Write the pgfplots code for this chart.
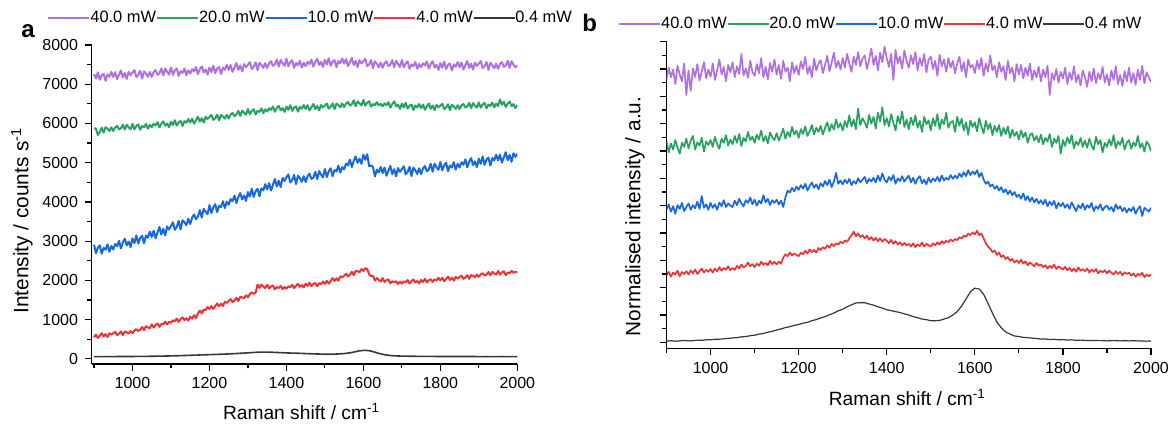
\documentclass[border=0pt]{standalone}
\usepackage{pgfplots}
\pgfplotsset{compat=1.18}
\usepackage{pgfplotstable}
\usepackage{fontspec}
\setmainfont{Liberation Sans}
\definecolor{cpurple}{RGB}{176,112,224}
\definecolor{cgreen}{RGB}{40,162,96}
\definecolor{cblue}{RGB}{24,104,224}
\definecolor{cred}{RGB}{234,52,56}
\definecolor{cblack}{RGB}{55,55,55}

\pgfplotstableread{
x a40 a20 a10 a4
900 7262 5876 2910 552
905 7145 5871 2695 618
910 7304 5706 2830 534
915 7115 5782 2895 594
920 7226 5893 2680 654
925 7265 5765 2829 570
930 7088 5905 2782 630
935 7247 5865 2917 558
940 7190 5807 2730 654
945 7313 5902 2879 618
950 7184 5808 2790 654
955 7307 5900 2929 691
960 7130 5938 2872 608
965 7241 5850 3011 639
970 7352 5879 2814 700
975 7175 5971 2967 605
980 7286 5846 3064 702
985 7133 5966 2895 679
990 7316 5905 2992 644
995 7235 5853 2851 711
1000 7298 5990 3074 652
1005 7361 5851 2950 724
1010 7184 5937 3148 760
1015 7235 5978 2940 712
1020 7346 5839 3082 742
1025 7145 5934 3140 814
1030 7328 5903 2946 736
1035 7271 5989 3144 832
1040 7190 5868 3090 802
1045 7313 5963 3246 778
1050 7184 5905 3108 880
1055 7307 5990 3266 797
1060 7358 5949 3074 864
1065 7241 6034 3218 901
1070 7280 5903 3362 818
1075 7403 5997 3170 891
1080 7226 6055 3314 880
1085 7397 5942 3150 947
1090 7316 6000 3378 876
1095 7247 5905 3298 949
1100 7430 6044 3386 920
1105 7240 5960 3478 983
1110 7351 6083 3290 962
1115 7401 5945 3368 1025
1120 7212 6032 3516 944
1125 7334 6065 3300 1013
1130 7289 5936 3532 1058
1135 7399 6059 3484 989
1140 7234 6020 3408 1034
1145 7356 6116 3570 977
1150 7275 6023 3438 1076
1155 7385 6121 3601 1026
1160 7327 5994 3680 1114
1165 7437 6083 3563 1038
1170 7259 6172 3628 1162
1175 7381 6045 3791 1230
1180 7455 6134 3604 1160
1185 7301 6025 3823 1258
1190 7375 6168 3748 1243
1195 7245 6113 3687 1323
1200 7427 6166 3920 1272
1205 7312 6218 3718 1348
1210 7472 6090 3866 1274
1215 7285 6133 3944 1344
1220 7397 6221 3742 1414
1225 7438 6075 3904 1340
1230 7262 6217 3870 1410
1235 7423 6179 4018 1348
1240 7367 6123 3844 1454
1245 7492 6220 4006 1428
1250 7364 6128 3930 1474
1255 7489 6226 4073 1521
1260 7314 6270 4020 1448
1265 7427 6188 4163 1489
1270 7540 6223 3970 1560
1275 7365 6321 4127 1475
1280 7478 6194 4228 1582
1285 7327 6328 4063 1569
1290 7512 6273 4164 1544
1295 7433 6227 4027 1621
1300 7498 6370 4254 1572
1305 7564 6233 4133 1652
1310 7390 6321 4334 1696
1315 7444 6364 4129 1656
1320 7558 6227 4274 1694
1325 7360 6324 4335 1894
1330 7546 6295 4144 1809
1335 7492 6383 4345 1893
1340 7414 6264 4294 1846
1345 7540 6361 4453 1805
1350 7414 6305 4318 1890
1355 7536 6389 4479 1793
1360 7586 6347 4290 1846
1365 7468 6431 4437 1869
1370 7506 6299 4584 1774
1375 7628 6392 4395 1831
1380 7450 6449 4542 1806
1385 7620 6335 4381 1859
1390 7538 6392 4612 1774
1395 7468 6296 4535 1833
1400 7650 6434 4626 1790
1405 7457 6346 4701 1850
1410 7564 6465 4496 1826
1415 7611 6323 4557 1886
1420 7418 6406 4688 1802
1425 7537 6435 4455 1868
1430 7488 6302 4670 1910
1435 7595 6421 4605 1838
1440 7426 6378 4512 1880
1445 7545 6470 4657 1820
1450 7460 6373 4508 1916
1455 7571 6465 4656 1861
1460 7514 6332 4720 1944
1465 7625 6415 4588 1853
1470 7448 6498 4618 1912
1475 7571 6365 4766 1935
1480 7646 6448 4584 1850
1485 7493 6333 4788 1933
1490 7568 6470 4698 1908
1495 7439 6409 4622 1973
1500 7622 6456 4840 1912
1505 7503 6508 4636 1989
1510 7660 6380 4782 1916
1515 7469 6423 4858 1987
1520 7578 6511 4654 2058
1525 7615 6365 4814 1985
1530 7436 6507 4778 2056
1535 7593 6469 4924 1995
1540 7534 6413 4748 2102
1545 7655 6510 4888 2077
1550 7524 6418 4830 2124
1555 7642 6510 4978 2173
1560 7460 6548 4930 2102
1565 7566 6460 5078 2145
1570 7672 6489 4890 2218
1575 7490 6591 5052 2135
1580 7596 6438 5158 2244
1585 7438 6562 4998 2233
1590 7616 6515 5104 2210
1595 7530 6463 4972 2289
1600 7588 6600 5204 2242
1605 7645 6453 5074 2312
1610 7463 6531 5216 2286
1615 7508 6564 4912 2156
1620 7614 6429 4928 2104
1625 7407 6495 4890 2114
1630 7585 6465 4650 1994
1635 7522 6543 4822 2058
1640 7436 6462 4752 2011
1645 7553 6501 4892 1970
1650 7419 6435 4738 2060
1655 7537 6513 4878 1959
1660 7584 6465 4668 2008
1665 7462 6543 4794 2027
1670 7497 6405 4920 1926
1675 7615 6492 4710 1981
1680 7434 6563 4836 1952
1685 7600 6443 4654 1981
1690 7515 6474 4864 1912
1695 7441 6372 4766 1967
1700 7620 6504 4836 1920
1705 7427 6411 4910 1977
1710 7534 6525 4704 1950
1715 7581 6378 4764 2007
1720 7392 6456 4894 1920
1725 7507 6480 4660 1983
1730 7458 6342 4874 2022
1735 7565 6456 4808 1947
1740 7396 6408 4714 1986
1745 7515 6495 4858 1923
1750 7430 6393 4708 2016
1755 7536 6483 4854 1960
1760 7474 6348 4916 2042
1765 7580 6429 4782 1950
1770 7398 6510 4830 2008
1775 7516 6375 4976 2030
1780 7586 6456 4772 1964
1785 7428 6339 4974 2026
1790 7498 6474 4882 2000
1795 7364 6411 4820 2064
1800 7542 6456 5020 2002
1805 7422 6503 4803 2066
1810 7578 6370 4936 1980
1815 7386 6408 4999 2038
1820 7494 6491 4782 2096
1825 7530 6340 4929 2010
1830 7350 6477 4880 2068
1835 7506 6434 5013 1994
1840 7446 6373 4824 2088
1845 7566 6465 4971 2050
1850 7434 6368 4880 2084
1855 7555 6459 5013 2122
1860 7376 6496 4950 2040
1865 7485 6407 5083 2072
1870 7594 6435 4880 2134
1875 7415 6526 5027 2040
1880 7524 6392 5118 2138
1885 7369 6519 4943 2116
1890 7550 6457 5034 2082
1895 7467 6404 4887 2150
1900 7528 6540 5104 2092
1905 7589 6400 4972 2156
1910 7410 6485 5162 2184
1915 7459 6525 4946 2128
1920 7568 6385 5080 2150
1925 7365 6479 5130 2214
1930 7546 6447 4928 2128
1935 7487 6532 5118 2216
1940 7404 6410 5056 2178
1945 7525 6504 5204 2146
1950 7394 6445 5058 2240
1955 7514 6610 5205 2147
1960 7562 6477 5002 2204
1965 7442 6556 5135 2231
1970 7478 6419 5268 2132
1975 7598 6507 5065 2201
1980 7418 6559 5198 2186
1985 7586 6440 5023 2243
1990 7502 6492 5240 2198
1995 7430 6391 5149 2219
2000 7480 6470 5230 2210
}\tA

\pgfplotstableread{
x b40 b20 b10 b4
900 9.62 7.35 4.85 2.45
905 10.05 6.95 5.05 2.58
910 9.70 7.28 4.78 2.40
915 9.98 7.05 4.98 2.55
920 9.45 7.40 4.70 2.48
925 10.12 7.12 5.02 2.62
930 9.80 6.90 4.88 2.42
935 9.55 7.30 5.10 2.57
940 10.20 7.15 4.80 2.50
945 9.05 7.45 4.95 2.60
950 9.95 7.10 5.08 2.48
955 9.20 7.38 4.85 2.63
960 10.02 7.55 5.02 2.52
965 9.71 7.05 4.90 2.66
970 10.18 7.32 5.15 2.50
975 9.58 7.20 4.88 2.60
980 9.90 7.48 5.35 2.70
985 10.25 6.98 4.92 2.55
990 9.66 7.35 5.05 2.65
995 9.98 7.22 4.85 2.58
1000 9.72 7.40 5.10 2.68
1005 10.20 7.15 4.92 2.55
1010 9.60 7.52 5.05 2.70
1015 9.95 7.25 4.85 2.60
1020 10.35 7.08 5.12 2.75
1025 9.80 7.45 4.98 2.62
1030 10.08 7.30 5.20 2.72
1035 9.55 7.58 4.95 2.66
1040 10.15 7.20 5.08 2.78
1045 9.88 7.42 5.00 2.64
1050 10.25 7.25 4.95 2.72
1055 9.70 7.55 5.18 2.65
1060 10.10 7.30 5.02 2.80
1065 9.82 7.62 5.25 2.70
1070 10.55 7.18 5.08 2.85
1075 9.76 7.48 4.98 2.74
1080 10.02 7.35 5.20 2.80
1085 9.68 7.70 5.10 2.92
1090 10.30 7.40 5.30 2.78
1095 9.90 7.52 5.05 2.86
1100 9.75 7.30 5.22 2.75
1105 10.18 7.60 5.00 2.88
1110 9.85 7.42 5.18 2.80
1115 10.40 7.75 5.08 2.95
1120 9.70 7.35 5.38 2.84
1125 10.08 7.55 5.12 2.90
1130 9.62 7.28 5.25 2.82
1135 10.22 7.68 5.02 2.98
1140 9.90 7.50 5.20 2.86
1145 10.35 7.40 5.10 2.94
1150 9.80 7.65 5.22 2.85
1155 10.15 7.38 5.05 2.95
1160 9.65 7.58 5.18 2.88
1165 10.30 7.82 4.95 3.10
1170 9.90 7.45 5.30 3.22
1175 10.05 7.70 5.55 3.15
1180 9.55 7.52 5.48 3.28
1185 10.25 7.88 5.65 3.18
1190 9.85 7.60 5.52 3.25
1195 10.12 7.75 5.70 3.20
1200 9.78 7.48 5.58 3.15
1205 10.28 7.80 5.75 3.28
1210 10.00 7.62 5.62 3.22
1215 10.45 7.90 5.80 3.35
1220 9.82 7.55 5.55 3.25
1225 10.10 7.72 5.72 3.40
1230 9.70 7.95 5.85 3.30
1235 10.38 7.60 5.65 3.38
1240 9.95 7.85 5.78 3.28
1245 10.20 7.70 5.60 3.45
1250 10.32 7.92 5.82 3.38
1255 9.85 7.60 5.70 3.48
1260 10.15 7.85 5.90 3.42
1265 10.48 8.05 5.75 3.55
1270 9.92 7.72 5.95 3.46
1275 10.25 7.98 5.68 3.60
1280 10.60 7.78 5.88 3.52
1285 10.05 8.15 6.20 3.62
1290 10.30 7.85 5.80 3.58
1295 9.98 8.02 5.92 3.68
1300 10.40 7.75 5.78 3.62
1305 10.05 8.10 5.95 3.72
1310 10.55 7.88 5.82 3.68
1315 10.20 8.30 5.98 3.80
1320 9.90 7.90 5.75 3.92
1325 10.45 8.15 5.90 4.05
1330 10.15 7.80 5.80 3.88
1335 10.62 8.55 6.00 3.98
1340 10.10 7.95 5.85 3.85
1345 10.38 8.20 5.95 3.92
1350 10.50 8.05 6.05 3.80
1355 10.00 7.85 5.82 3.90
1360 10.35 8.32 5.98 3.75
1365 10.75 8.00 5.88 3.85
1370 10.15 8.25 6.02 3.72
1375 10.48 7.82 5.85 3.82
1380 9.95 8.40 6.10 3.70
1385 10.60 8.08 5.90 3.80
1390 10.25 8.60 6.18 3.68
1395 10.82 7.95 5.95 3.78
1400 10.40 8.20 5.85 3.72
1405 10.08 7.90 6.05 3.62
1410 10.55 8.35 5.92 3.75
1415 9.60 8.05 6.12 3.60
1420 10.70 7.75 5.80 3.70
1425 10.20 8.28 6.00 3.58
1430 10.45 8.00 5.90 3.66
1435 10.02 8.45 6.08 3.54
1440 10.68 7.88 5.88 3.64
1445 10.30 8.15 6.00 3.55
1450 10.05 7.80 6.10 3.60
1455 10.50 8.22 5.85 3.50
1460 10.18 7.95 6.02 3.62
1465 10.62 8.30 5.80 3.48
1470 9.95 7.85 5.98 3.58
1475 10.40 8.10 6.08 3.52
1480 10.12 7.70 5.82 3.65
1485 10.55 8.25 5.95 3.50
1490 9.88 7.98 5.78 3.60
1495 10.35 8.12 6.02 3.55
1500 10.45 7.75 5.85 3.50
1505 10.00 8.20 6.00 3.62
1510 10.30 7.92 5.90 3.55
1515 9.75 8.35 6.05 3.66
1520 10.52 7.80 5.88 3.58
1525 10.10 8.15 6.10 3.70
1530 10.35 7.98 5.92 3.62
1535 9.90 8.40 6.02 3.72
1540 10.40 7.85 5.95 3.66
1545 10.05 8.05 6.12 3.76
1550 10.30 8.10 5.98 3.70
1555 9.85 7.70 6.10 3.78
1560 10.20 8.25 6.00 3.74
1565 10.45 7.92 6.18 3.84
1570 9.92 8.18 6.05 3.80
1575 10.25 7.75 6.22 3.90
1580 9.70 8.05 6.08 3.86
1585 10.35 7.60 6.30 3.98
1590 10.05 8.12 6.12 3.92
1595 10.15 7.88 6.25 4.02
1600 9.85 8.05 6.15 3.95
1605 10.30 7.72 6.30 4.08
1610 10.00 8.20 6.05 3.92
1615 10.40 7.90 6.20 3.98
1620 9.75 7.65 5.95 3.80
1625 10.20 8.10 5.80 3.62
1630 9.90 7.80 5.88 3.50
1635 10.50 8.00 5.70 3.42
1640 9.95 7.58 5.78 3.30
1645 10.12 7.92 5.62 3.36
1650 9.70 7.70 5.72 3.20
1655 10.25 7.95 5.55 3.28
1660 9.90 7.55 5.68 3.12
1665 10.10 7.85 5.48 3.18
1670 9.60 7.62 5.60 3.05
1675 10.30 7.90 5.42 3.12
1680 9.85 7.48 5.55 2.98
1685 10.05 7.78 5.38 3.05
1690 9.55 7.55 5.50 2.92
1695 10.18 7.70 5.32 3.00
1700 9.80 7.42 5.40 2.90
1705 10.15 7.75 5.25 3.02
1710 9.65 7.50 5.45 2.88
1715 10.05 7.68 5.20 2.96
1720 9.75 7.30 5.35 2.82
1725 10.20 7.58 5.15 2.92
1730 9.60 7.65 5.30 2.85
1735 9.95 7.38 5.12 2.78
1740 9.70 7.55 5.25 2.90
1745 10.08 7.32 5.08 2.80
1750 9.55 7.60 5.20 2.85
1755 9.98 7.25 5.05 2.75
1760 9.70 7.48 5.22 2.82
1765 10.12 7.35 4.98 2.70
1770 9.05 7.62 5.15 2.80
1775 9.85 7.15 5.02 2.72
1780 9.60 7.45 5.18 2.85
1785 10.00 7.30 4.90 2.68
1790 9.50 7.55 5.10 2.78
1795 9.90 6.90 4.98 2.72
1800 9.65 7.40 5.10 2.66
1805 10.05 7.18 4.92 2.76
1810 9.45 7.50 5.05 2.64
1815 9.88 7.28 4.88 2.72
1820 9.60 7.58 5.12 2.60
1825 10.10 7.10 4.95 2.70
1830 9.52 7.35 4.80 2.58
1835 9.80 7.22 5.02 2.74
1840 9.40 7.48 4.90 2.62
1845 9.95 7.15 5.08 2.68
1850 9.70 7.38 4.85 2.60
1855 9.35 7.12 5.02 2.70
1860 9.90 7.45 4.92 2.55
1865 9.55 7.20 5.10 2.66
1870 10.02 7.05 4.80 2.58
1875 9.48 7.52 4.98 2.68
1880 9.85 7.25 4.88 2.52
1885 9.62 7.40 5.05 2.62
1890 10.08 6.95 4.82 2.56
1895 9.50 7.30 4.95 2.64
1900 9.80 7.15 5.00 2.52
1905 9.40 7.42 4.85 2.62
1910 9.95 7.20 4.95 2.55
1915 9.60 7.58 4.78 2.48
1920 10.10 7.10 5.05 2.60
1925 9.45 7.35 4.88 2.50
1930 9.78 7.22 4.98 2.58
1935 9.38 7.48 4.80 2.45
1940 9.92 7.05 4.92 2.56
1945 9.55 7.30 4.75 2.50
1950 10.05 7.40 4.90 2.55
1955 9.50 7.08 4.80 2.44
1960 9.85 7.32 4.95 2.52
1965 9.42 7.18 4.70 2.40
1970 9.98 7.55 4.88 2.50
1975 9.60 7.12 4.98 2.46
1980 10.12 7.28 4.62 2.54
1985 9.48 6.98 4.92 2.38
1990 9.88 7.35 4.85 2.48
1995 9.70 7.22 4.78 2.42
2000 9.52 7.00 4.92 2.48
}\tB

\pgfplotstableread{
x a04 b04
900 58 0.04
910 59 0.06
920 58 0.04
930 59 0.05
940 60 0.07
950 59 0.05
960 60 0.06
970 61 0.08
980 61 0.07
990 62 0.09
1000 62 0.09
1010 63 0.11
1020 64 0.11
1030 65 0.13
1040 66 0.14
1050 67 0.16
1060 69 0.17
1070 71 0.20
1080 72 0.21
1090 74 0.24
1100 76 0.26
1110 79 0.30
1120 81 0.32
1130 85 0.37
1140 88 0.40
1150 91 0.45
1160 95 0.49
1170 98 0.54
1180 102 0.57
1190 105 0.62
1200 108 0.65
1210 112 0.70
1220 115 0.73
1230 119 0.79
1240 123 0.83
1250 127 0.89
1260 132 0.94
1270 137 1.01
1280 143 1.07
1290 148 1.15
1300 154 1.21
1310 161 1.30
1320 167 1.37
1330 172 1.44
1340 174 1.45
1350 173 1.45
1360 170 1.40
1370 166 1.36
1380 162 1.30
1390 157 1.25
1400 153 1.19
1410 149 1.16
1420 147 1.12
1430 144 1.09
1440 140 1.04
1450 136 1.00
1460 132 0.94
1470 128 0.90
1480 125 0.85
1490 122 0.83
1500 120 0.79
1510 119 0.79
1520 121 0.80
1530 124 0.85
1540 129 0.90
1550 136 1.00
1560 147 1.12
1570 163 1.33
1580 185 1.58
1590 206 1.85
1600 217 1.98
1610 215 1.95
1620 199 1.76
1630 171 1.42
1640 142 1.07
1650 116 0.74
1660 98 0.53
1670 86 0.38
1680 79 0.30
1690 74 0.23
1700 71 0.21
1710 70 0.18
1720 68 0.17
1730 67 0.15
1740 66 0.14
1750 65 0.12
1760 64 0.12
1770 63 0.10
1780 63 0.11
1790 62 0.09
1800 62 0.10
1810 62 0.08
1820 61 0.09
1830 61 0.07
1840 61 0.08
1850 61 0.07
1860 60 0.06
1870 60 0.07
1880 60 0.06
1890 60 0.06
1900 59 0.05
1910 59 0.06
1920 60 0.06
1930 59 0.05
1940 59 0.06
1950 59 0.05
1960 60 0.06
1970 59 0.05
1980 59 0.05
1990 58 0.04
2000 59 0.05
}\tS

\pgfplotsset{
  common/.style={
    scale only axis,
    axis x line*=bottom, axis y line*=left,
    tick align=outside,
    xmax=2000,
    xtick={1000,1200,...,2000},
    minor xtick={900,1100,...,1900},
    major tick length=3.3pt, minor tick length=2.2pt,
    every tick/.style={black, line width=0.6pt},
    axis line style={black, line width=0.6pt},
    ticklabel style={font=\fontsize{8}{9.6}\selectfont},
    /pgf/number format/assume math mode=true,
    /pgf/number format/set thousands separator={},
    label style={font=\fontsize{9.6}{11.5}\selectfont},
    every axis plot/.append style={line join=round},
    legend columns=-1,
    legend style={draw=none, fill=none, inner sep=0pt,
      font=\fontsize{8.2}{9.8}\selectfont,
      nodes={inner xsep=0pt, inner ysep=1pt},
      /tikz/every even column/.append style={column sep=0pt}},
    legend image code/.code={\draw[#1, line width=0.8pt] (0pt,0pt) -- (18pt,0pt);
      \path (0pt,0pt) -- (20.5pt,0pt);},
  }
}

\begin{document}
\begin{tikzpicture}
\begin{axis}[common,
  at={(45.85pt,29.5pt)}, anchor=south west,
  width=212.8pt, height=159.5pt,
  xmin=894, ymin=-130, ymax=8000,
  ytick={0,1000,...,8000}, minor ytick={500,1500,...,7500},
  xlabel={Raman shift / cm\textsuperscript{-1}},
  ylabel={Intensity / counts s\textsuperscript{-1}},
  xlabel style={at={(axis description cs:0.493,-0.1755)}, anchor=base},
  ylabel style={at={(axis description cs:-0.164,0.45)}, anchor=center,
    font=\fontsize{10.4}{12.5}\selectfont},
  legend style={at={(axis description cs:-0.105,1.085)}, anchor=west},
]
\addplot[cpurple, line width=1pt] table[x=x, y=a40] {\tA};
\addlegendentry{40.0 mW}
\addplot[cgreen, line width=1pt] table[x=x, y=a20] {\tA};
\addlegendentry{20.0 mW}
\addplot[cblue, line width=1pt] table[x=x, y=a10] {\tA};
\addlegendentry{10.0 mW}
\addplot[cred, line width=1pt] table[x=x, y=a4] {\tA};
\addlegendentry{4.0 mW}
\addplot[cblack, line width=0.8pt] table[x=x, y=a04] {\tS};
\addlegendentry{0.4 mW}
\end{axis}

\begin{axis}[common,
  at={(333.25pt,37.35pt)}, anchor=south west,
  width=242.25pt, height=153.3pt,
  xmin=900, ymin=-0.22, ymax=11,
  ytick={0,1,...,11}, minor ytick={0.5,1.5,...,10.5},
  yticklabels={},
  xlabel={Raman shift / cm\textsuperscript{-1}},
  ylabel={Normalised intensity / a.u.},
  xlabel style={at={(axis description cs:0.497,-0.188)}, anchor=base},
  ylabel style={at={(axis description cs:-0.065,0.43)}, anchor=center,
    font=\fontsize{10.4}{12.5}\selectfont},
  legend style={at={(axis description cs:-0.100,1.058)}, anchor=west},
]
\addplot[cpurple, line width=0.85pt] table[x=x, y=b40] {\tB};
\addlegendentry{40.0 mW}
\addplot[cgreen, line width=0.85pt] table[x=x, y=b20] {\tB};
\addlegendentry{20.0 mW}
\addplot[cblue, line width=0.85pt] table[x=x, y=b10] {\tB};
\addlegendentry{10.0 mW}
\addplot[cred, line width=0.85pt] table[x=x, y=b4] {\tB};
\addlegendentry{4.0 mW}
\addplot[cblack, line width=0.6pt] table[x=x, y=b04] {\tS};
\addlegendentry{0.4 mW}
\end{axis}

\node[anchor=base west, inner sep=0pt, font=\bfseries\fontsize{12}{14}\selectfont] at (10.5pt,192.7pt) {a};
\node[anchor=base west, inner sep=0pt, font=\bfseries\fontsize{12}{14}\selectfont] at (291pt,195.75pt) {b};

\pgfresetboundingbox
\useasboundingbox (0pt,0pt) rectangle (586pt,211.5pt);
\end{tikzpicture}
\end{document}
